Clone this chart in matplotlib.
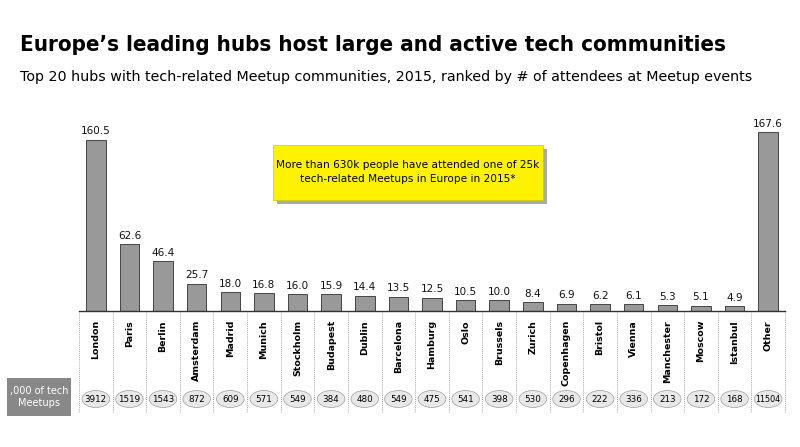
import matplotlib
matplotlib.use("Agg")
import matplotlib.pyplot as plt
from matplotlib.patches import FancyBboxPatch, Ellipse
import matplotlib.transforms as mtransforms

cities = ["London", "Paris", "Berlin", "Amsterdam", "Madrid", "Munich", "Stockholm",
          "Budapest", "Dublin", "Barcelona", "Hamburg", "Oslo", "Brussels", "Zurich",
          "Copenhagen", "Bristol", "Vienna", "Manchester", "Moscow", "Istanbul", "Other"]
attendees = [160.5, 62.6, 46.4, 25.7, 18.0, 16.8, 16.0, 15.9, 14.4, 13.5, 12.5,
             10.5, 10.0, 8.4, 6.9, 6.2, 6.1, 5.3, 5.1, 4.9, 167.6]
meetups = [3912, 1519, 1543, 872, 609, 571, 549, 384, 480, 549, 475, 541, 398,
           530, 296, 222, 336, 213, 172, 168, 11504]

W, H = 800, 447
fig = plt.figure(figsize=(8, 4.47), dpi=100)
ax = fig.add_axes([79 / W, 136 / H, 706 / W, 191 / H])
n = len(cities)
ax.set_xlim(-0.5, n - 0.5)
ax.set_ylim(0, 167.6 * 191 / 179)
ax.axis("off")

x = range(n)
ax.bar(x, attendees, width=0.58, color="#999999", edgecolor="#444444", linewidth=0.7)
for i, v in enumerate(attendees):
    ax.text(i, v + 3, f"{v:.1f}", ha="center", va="bottom", fontsize=7.5, color="#111111")

# baseline
fig.add_artist(plt.Line2D([79 / W, 785 / W], [136 / H, 136 / H], color="#333333", lw=1))

trans = mtransforms.blended_transform_factory(ax.transData, fig.transFigure)
for i in range(n + 1):
    ax.plot([i - 0.5, i - 0.5], [136 / H, 35 / H], transform=trans, color="#888888",
            lw=0.6, ls=(0, (1, 1.5)), clip_on=False)
for i, c in enumerate(cities):
    ax.text(i, 127 / H, c, transform=trans, rotation=90, ha="center", va="top",
            fontsize=6.8, fontweight="bold", clip_on=False)
    e = Ellipse((i, 48 / H), 0.82, 17 / H, transform=trans, facecolor="#e8e8e8",
                edgecolor="#aaaaaa", lw=0.6, clip_on=False)
    ax.add_artist(e)
    ax.text(i, 48 / H, str(meetups[i]), transform=trans, ha="center", va="center",
            fontsize=6.3 if meetups[i] < 10000 else 5.8, clip_on=False)

# left label box
fig.add_artist(FancyBboxPatch((7 / W, 31 / H), 64 / W, 38 / H, boxstyle="square,pad=0",
                              facecolor="#888888", edgecolor="none", transform=fig.transFigure))
fig.text(39 / W, 50 / H, ",000 of tech\nMeetups", ha="center", va="center", color="white",
         fontsize=7, linespacing=1.2)

# callout box
fig.add_artist(FancyBboxPatch((277 / W, 243 / H), 270 / W, 55 / H, boxstyle="square,pad=0",
                              facecolor="#aaaaaa", edgecolor="none", transform=fig.transFigure))
fig.add_artist(FancyBboxPatch((273 / W, 247 / H), 270 / W, 55 / H, boxstyle="square,pad=0",
                              facecolor="#fff200", edgecolor="#cccc00", lw=0.5,
                              transform=fig.transFigure))
fig.text(408 / W, 275 / H, "More than 630k people have attended one of 25k\ntech-related Meetups in Europe in 2015*",
         ha="center", va="center", fontsize=7.6, linespacing=1.6)

fig.text(20 / W, 402 / H, "Europe’s leading hubs host large and active tech communities",
         fontsize=16, fontweight="bold", va="center", fontstretch="condensed")
fig.text(20 / W, 370 / H, "Top 20 hubs with tech-related Meetup communities, 2015, ranked by # of attendees at Meetup events",
         fontsize=10.3, va="center")

fig.savefig("out.png", dpi=100)
